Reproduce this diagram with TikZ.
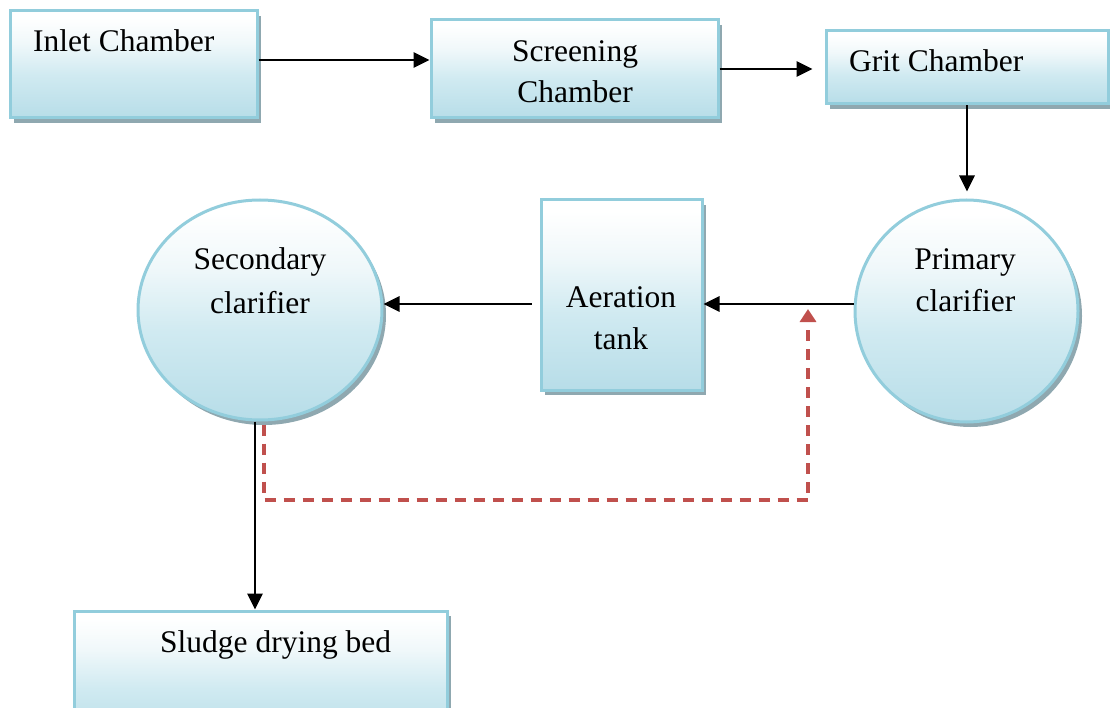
\documentclass[tikz,border=0pt]{standalone}
\usepackage{fontspec}
\setmainfont{Liberation Serif}
\usetikzlibrary{arrows.meta,shapes.geometric,shadows}

\definecolor{rimc}{RGB}{146,205,220}
\definecolor{shadec}{RGB}{143,168,176}
\definecolor{fillbot}{RGB}{183,221,232}
\definecolor{fillmid}{RGB}{208,234,241}
\definecolor{fillhi}{RGB}{240,248,250}
\definecolor{returnc}{RGB}{192,80,77}

% white at the top fading into pale blue towards the bottom
\pgfdeclareverticalshading{unitfill}{100bp}{%
  color(0bp)=(fillbot); color(25bp)=(fillbot); color(45bp)=(fillmid);
  color(60bp)=(fillhi); color(72bp)=(white); color(100bp)=(white)}

\begin{document}
\begin{tikzpicture}[x=1pt,y=-1pt,
  unit/.style={draw=rimc, line width=3pt, shading=unitfill, inner sep=0pt,
    drop shadow={shadow xshift=4pt, shadow yshift=-5pt, fill=shadec, opacity=1}},
  boxunit/.style={unit, rectangle, minimum width=#1},
  roundunit/.style={unit, ellipse},
  caption/.style={font=\fontsize{31.5}{40}\selectfont, inner sep=0pt},
  flow/.style={line width=2.8pt, -{Triangle[length=16pt,width=15pt]}},
  recycle/.style={draw=returnc, line width=3.4pt, dash pattern=on 11pt off 8pt,
    -{Triangle[length=13pt,width=16pt]}}]

\useasboundingbox (0,0) rectangle (1110,708);

% treatment units
\node[boxunit=247pt, minimum height=107pt] (inlet) at (133.5,64.5) {};
\node[boxunit=287pt, minimum height=98pt] (screen) at (574.5,69) {};
\node[boxunit=282pt, minimum height=73pt] (grit) at (967,67.5) {};
\node[roundunit, minimum width=223pt, minimum height=222pt] (prim) at (966.5,311) {};
\node[boxunit=161pt, minimum height=190pt] (aer) at (621.5,295) {};
\node[roundunit, minimum width=244pt, minimum height=220pt] (sec) at (260,310) {};
\node[boxunit=373pt, minimum height=129pt] (sludge) at (260.5,675.5) {};

% unit names
\node[caption, anchor=base west] (inlet-t) at (33,52) {Inlet Chamber};
\node[caption, anchor=base] (screen-t1) at (575,62) {Screening};
\node[caption, anchor=base] (screen-t2) at (575,103) {Chamber};
\node[caption, anchor=base west] (grit-t) at (849,72) {Grit Chamber};
\node[caption, anchor=base] (prim-t1) at (965,270) {Primary};
\node[caption, anchor=base] (prim-t2) at (965.5,312) {clarifier};
\node[caption, anchor=base] (aer-t1) at (621,308) {Aeration};
\node[caption, anchor=base] (aer-t2) at (621,349) {tank};
\node[caption, anchor=base] (sec-t1) at (260,270) {Secondary};
\node[caption, anchor=base] (sec-t2) at (260,313) {clarifier};
\node[caption, anchor=base west] (sludge-t) at (160,652) {Sludge drying bed};

% main flow
\draw[flow] ([yshift=4.5pt]inlet.east) -- ([yshift=4.5pt]inlet.east -| screen.west);
\draw[flow, shorten >=12pt] (screen.east) -- (screen.east -| grit.west);
\draw[flow, shorten >=7pt] (grit.south) -- (grit.south |- prim.north);
\draw[flow] ([yshift=7pt]prim.west) -- ([yshift=7pt]prim.west -| aer.east);
\draw[flow, shorten <=8pt] ([yshift=-9pt]aer.west) -- ([yshift=-9pt]aer.west -| sec.east);
\draw[flow] ([xshift=-5pt]sec.south) -- ([xshift=-5pt]sec.south |- sludge.north);

% sludge return line
\coordinate (retcorner) at (808,500);
\coordinate (rettip) at (808,309);
\draw[recycle] ([xshift=4pt,yshift=-3pt]sec.south) |- (retcorner) -- (rettip);

\end{tikzpicture}
\end{document}
